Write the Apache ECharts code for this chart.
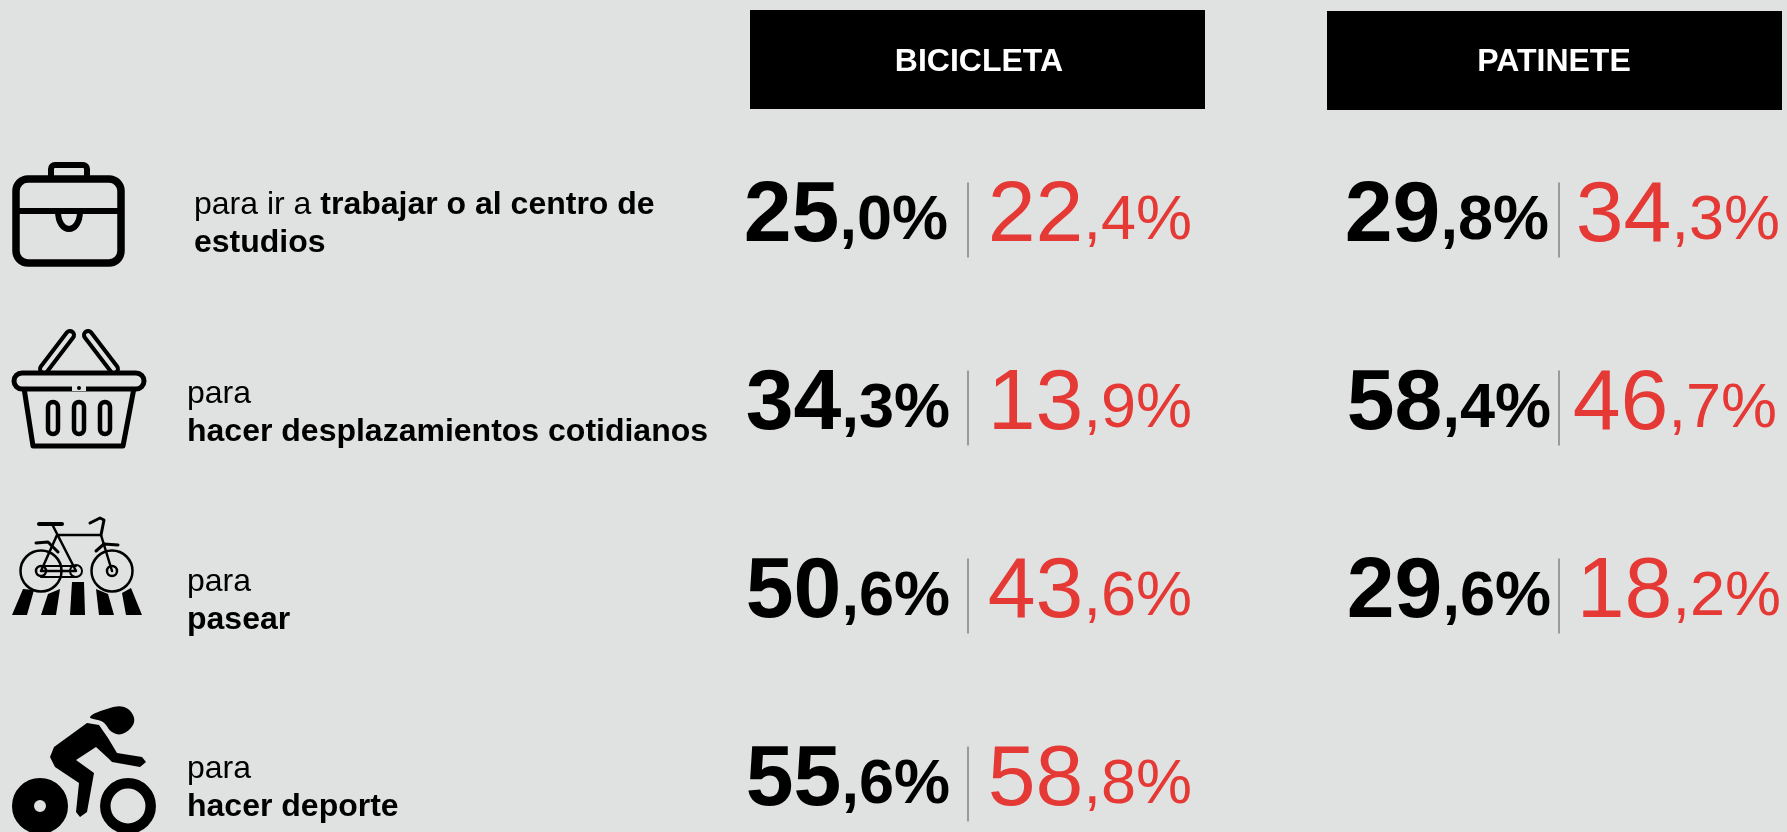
<!DOCTYPE html>
<html>
<head>
<meta charset="utf-8">
<style>html,body{margin:0;padding:0;background:#e0e2e1}#Chart{width:1787px;height:832px}</style>
<script src="https://cdn.jsdelivr.net/npm/echarts@6/dist/echarts.min.js"></script>
</head>
<body>
<div id="Chart"></div>
<script>
//datos
var columnas=["BICICLETA","PATINETE"]
var filas=["trabajar","desplazamientos","pasear","deporte"]
var biciNegro=[25.0,34.3,50.6,55.6]
var biciRojo=[22.4,13.9,43.6,58.8]
var patineteNegro=[29.8,58.4,29.6,null]
var patineteRojo=[34.3,46.7,18.2,null]
var textoFilas=[
	"{n|para ir a }{b|trabajar o al centro de}\n{b|estudios}",
	"{n|para}\n{b|hacer desplazamientos cotidianos}",
	"{n|para}\n{b|pasear}",
	"{n|para}\n{b|hacer deporte}"
]

var fondo="#e0e2e1",rojo="#e53935",fuente="'Liberation Sans',Arial,sans-serif"

function $each(a,f){for(var i=0;i<a.length;i++)f(a[i],i)}

//etiqueta 25,0%
function fmt(v,tipo){
	var p=v.toFixed(1).split(".")
	return "{"+tipo+"G|"+p[0]+"}{"+tipo+"P|,"+p[1]+"%}"
}

function richNum(){
	return {
		kG:{fontFamily:fuente,fontSize:86,fontWeight:"bold",color:"#000",lineHeight:86,verticalAlign:"bottom"},
		kP:{fontFamily:fuente,fontSize:63,fontWeight:"bold",color:"#000",lineHeight:70,verticalAlign:"bottom",padding:[0,0,7,0]},
		rG:{fontFamily:fuente,fontSize:86,color:rojo,lineHeight:86,verticalAlign:"bottom"},
		rP:{fontFamily:fuente,fontSize:63,color:rojo,lineHeight:70,verticalAlign:"bottom",padding:[0,0,7,0]}
	}
}

//arma los puntos de una serie
function puntos(col,vals,tipo,dx){
	var out=[]
	$each(vals,function(v,i){
		if(v==null) return
		out.push({
			value:[col,filas[i]],
			label:{show:true,position:"inside",opacity:1,formatter:fmt(v,tipo),rich:richNum(),align:"right",verticalAlign:"middle",offset:[dx[i],-3]}
		})
	})
	return out
}

//iconos
function iconos(){
	var negro={stroke:"#000",fill:"none",lineJoin:"round",lineCap:"round"}
	function st(w,extra){return Object.assign({},negro,{lineWidth:w},extra||{})}
	function poly(p,w){return {type:"polyline",shape:{points:p},style:st(w)}}
	function capsula(x,y1,y2,r){return {type:"rect",shape:{x:x-r,y:y1,width:r*2,height:y2-y1,r:r},style:st(4.5)}}
	function tira(p){return {type:"polygon",shape:{points:p},style:{fill:"#000"}}}
	function circ(x,y,r,w){return {type:"circle",shape:{cx:x,cy:y,r:r},style:st(w)}}
	return [
		//maletin
		{type:"rect",shape:{x:51,y:165,width:36,height:20,r:4},style:st(6)},
		{type:"rect",shape:{x:16,y:179,width:105,height:84,r:12},style:st(7.5,{fill:fondo})},
		{type:"line",shape:{x1:18,y1:211,x2:119,y2:211},style:st(6)},
		{type:"bezierCurve",shape:{x1:58,y1:211,x2:80,y2:211,cpx1:58,cpy1:235,cpx2:80,cpy2:235},style:st(6)},
		//cesta
		{type:"line",shape:{x1:44,y1:369,x2:70,y2:335},style:st(12)},
		{type:"line",shape:{x1:114,y1:369,x2:88,y2:335},style:st(12)},
		{type:"line",shape:{x1:44,y1:369,x2:70,y2:335},style:{stroke:fondo,lineWidth:4,lineCap:"round"}},
		{type:"line",shape:{x1:114,y1:369,x2:88,y2:335},style:{stroke:fondo,lineWidth:4,lineCap:"round"}},
		{type:"polygon",shape:{points:[[24,388],[33,446],[123,446],[134,388]]},style:st(5,{fill:fondo})},
		{type:"rect",shape:{x:14,y:373,width:130,height:16,r:8},style:st(5,{fill:fondo})},
		{type:"line",shape:{x1:72,y1:388,x2:86,y2:388},style:{stroke:fondo,lineWidth:6}},
		{type:"circle",shape:{cx:79,cy:388,r:2},style:{fill:"#000"}},
		capsula(53,402,434,5),capsula(79,402,434,5),capsula(105,402,434,5),
		//bici
		circ(41,571,20.5,2.5),circ(112,571,20.5,2.5),circ(41,571,5,2.5),circ(112,571,5,2.5),circ(76,571,6,2),
		poly([[52,524],[76,571],[41,571],[57,535],[101,535],[112,571]],2.5),
		poly([[39,524],[62,524]],4),
		poly([[101,535],[104,520],[100,518],[90,523]],3),
		poly([[36,543],[48,542],[58,552]],3),
		poly([[96,551],[104,544],[118,545]],3),
		poly([[41,566],[76,566]],2),
		poly([[41,577],[76,577]],2),
		tira([[12,615],[27,615],[34,590],[23,589]]),
		tira([[41,615],[56,615],[60,589],[48,594]]),
		tira([[70,615],[85,615],[84,582],[72,582]]),
		tira([[99,615],[114,615],[108,594],[96,589]]),
		tira([[126,615],[142,615],[131,588],[122,593]]),
		//ciclista
		{type:"circle",shape:{cx:40,cy:806,r:17},style:{fill:fondo,stroke:"#000",lineWidth:22}},
		{type:"circle",shape:{cx:128,cy:806,r:22.7},style:{fill:fondo,stroke:"#000",lineWidth:10.5}},
		{type:"polygon",shape:{points:[[90,717],[110,708],[124,707],[133,715],[133,725],[122,734],[112,732],[103,722]],smooth:0.4},style:{fill:"#000"}},
		{type:"polygon",shape:{points:[[87,723],[99,725],[108,738],[117,753],[142,757],[146,762],[140,767],[112,762],[108,758],[96,747],[76,760],[94,773],[87,812],[80,817],[76,812],[79,783],[55,767],[50,757],[54,747]]},style:{fill:"#000"}}
	]
}

//rotulos a la izquierda y cabeceras
function graficos(){
	var g=iconos()
	var boxes=[[750,10,455,99],[1327,11,455,99]]
	var txtX=[979,1554],txtY=[62,62]
	$each(columnas,function(c,i){
		g.push({type:"rect",shape:{x:boxes[i][0],y:boxes[i][1],width:boxes[i][2],height:boxes[i][3]},style:{fill:"#000"}})
		g.push({type:"text",x:txtX[i],y:txtY[i],style:{text:c,fill:"#fff",font:"bold 32px "+fuente,align:"center",verticalAlign:"middle"}})
	})
	var textoX=[194,187,187,187],textoY=[224,413,601,788]
	$each(textoFilas,function(t,i){
		g.push({type:"text",x:textoX[i],y:textoY[i],style:{
			text:t,align:"left",verticalAlign:"middle",
			rich:{
				n:{fontFamily:fuente,fontSize:32,fill:"#000",lineHeight:38},
				b:{fontFamily:fuente,fontSize:32,fontWeight:"bold",fill:"#000",lineHeight:38}
			}
		}})
	})
	return g
}

function drawChar(){
	var myChart=echarts.init(document.getElementById("Chart"))
	var separador=[]
	$each(columnas,function(c){
		$each(filas,function(f,i){
			if(c=="PATINETE" && patineteNegro[i]==null) return
			separador.push([c,f])
		})
	})
	var option={
		backgroundColor:fondo,
		animation:false,
		grid:{left:968,right:228,top:220,bottom:48},
		xAxis:{type:"category",data:columnas,boundaryGap:false,show:false},
		yAxis:{type:"category",data:filas,boundaryGap:false,inverse:true,show:false},
		graphic:graficos(),
		series:[
			{name:"separador",type:"scatter",symbol:"rect",symbolSize:[2,75],itemStyle:{color:"#9a9a9a",opacity:1},data:separador,silent:true},
			{name:"negro",type:"scatter",symbolSize:0,itemStyle:{opacity:1},data:puntos("BICICLETA",biciNegro,"k",[-20,-18,-18,-18]).concat(puntos("PATINETE",patineteNegro,"k",[-10,-8,-8]))},
			{name:"rojo",type:"scatter",symbolSize:0,itemStyle:{opacity:1},data:puntos("BICICLETA",biciRojo,"r",[224,224,224,224]).concat(puntos("PATINETE",patineteRojo,"r",[221,218,222]))}
		]
	}
	myChart.setOption(option)
}

drawChar()
</script>
</body>
</html>
